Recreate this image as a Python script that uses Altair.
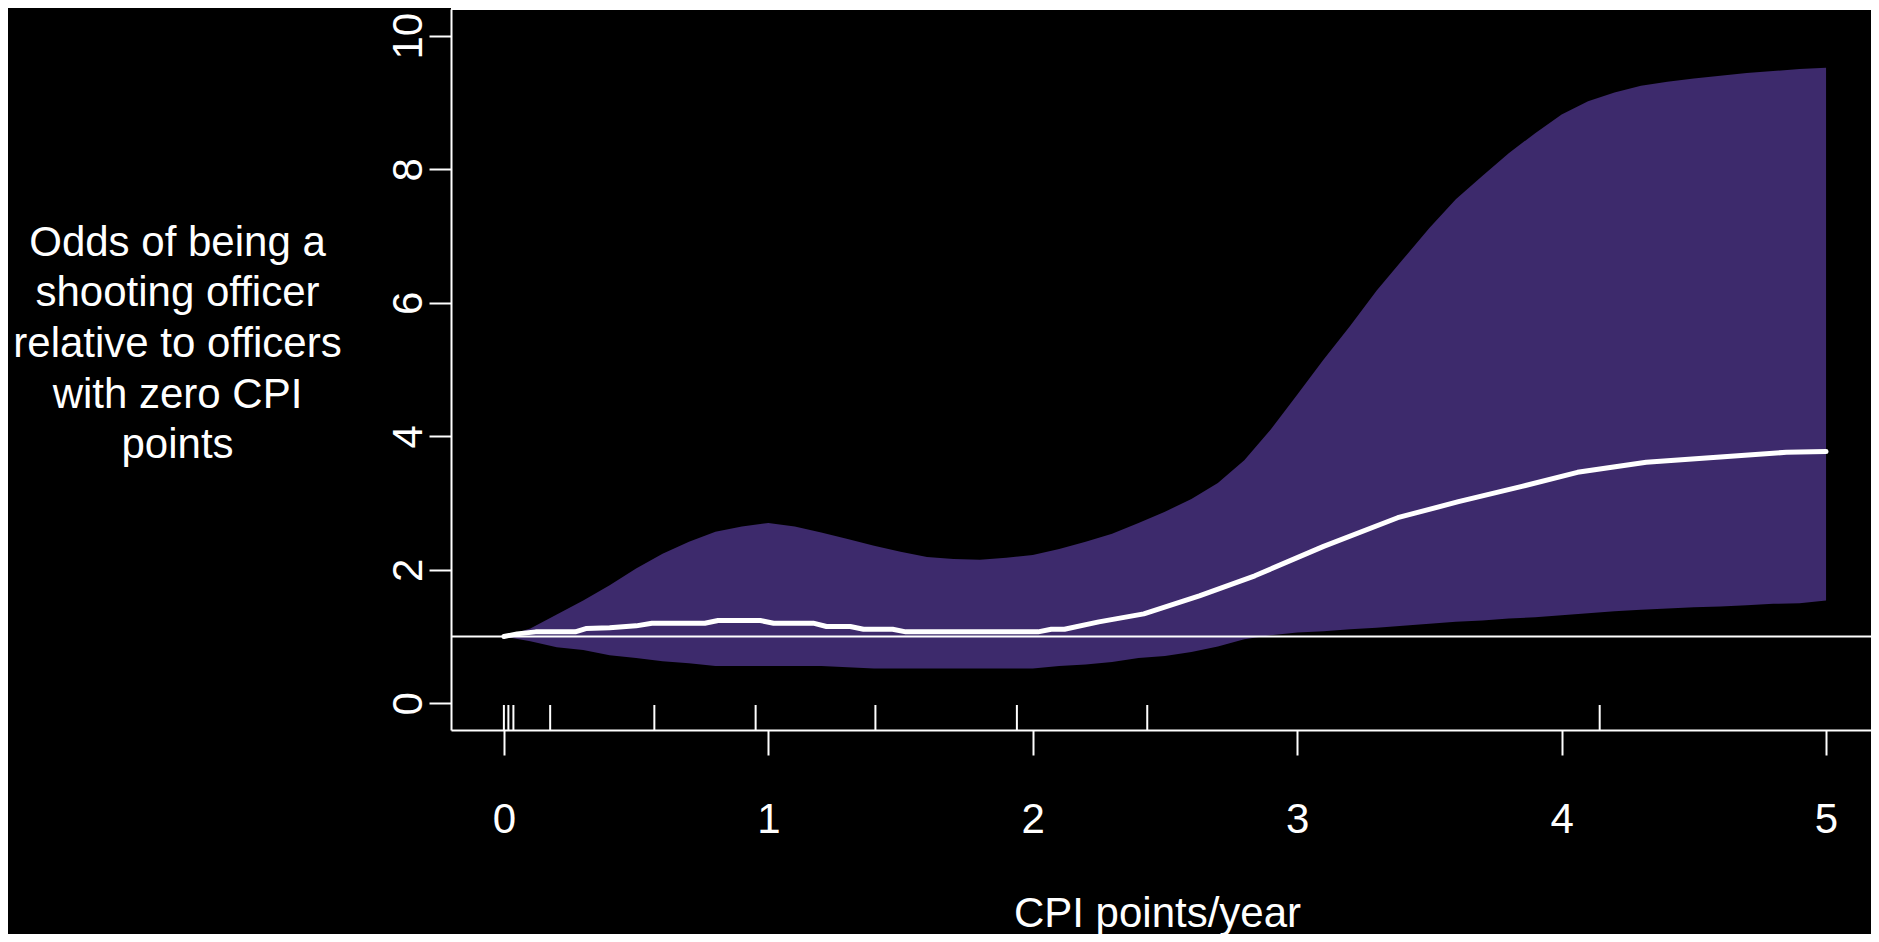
import altair as alt
import pandas as pd

# ---------------- data ----------------
band_x = [round(i * 0.1, 1) for i in range(51)]
band_upper = [1.00, 1.12, 1.33, 1.54, 1.77, 2.02, 2.24, 2.42, 2.57, 2.65, 2.70,
              2.65, 2.56, 2.46, 2.36, 2.27, 2.19, 2.16, 2.15, 2.18, 2.22,
              2.31, 2.42, 2.54, 2.70, 2.87, 3.06, 3.30, 3.64, 4.10, 4.62,
              5.15, 5.65, 6.18, 6.65, 7.12, 7.55, 7.90, 8.24, 8.54, 8.82,
              9.02, 9.15, 9.25, 9.31, 9.36, 9.40, 9.44, 9.47, 9.50, 9.52]
band_lower = [1.00, 0.93, 0.84, 0.80, 0.72, 0.68, 0.63, 0.60, 0.56, 0.56, 0.56,
              0.56, 0.56, 0.54, 0.52, 0.52, 0.52, 0.52, 0.52, 0.52, 0.52,
              0.56, 0.58, 0.62, 0.68, 0.71, 0.77, 0.85, 0.96, 1.02, 1.06,
              1.08, 1.11, 1.13, 1.16, 1.19, 1.22, 1.24, 1.27, 1.29, 1.32,
              1.35, 1.38, 1.40, 1.42, 1.44, 1.45, 1.47, 1.49, 1.50, 1.54]

line_x = [0.00, 0.05, 0.12, 0.27, 0.31, 0.40, 0.50, 0.56, 0.76, 0.81, 0.97,
          1.02, 1.17, 1.22, 1.31, 1.36, 1.47, 1.52, 2.02, 2.07, 2.12, 2.25,
          2.42, 2.63, 2.84, 3.10, 3.38, 3.61, 3.85, 4.06, 4.32, 4.60, 4.85, 5.00]
line_y = [1.00, 1.04, 1.07, 1.07, 1.12, 1.13, 1.16, 1.20, 1.20, 1.24, 1.24,
          1.20, 1.20, 1.15, 1.15, 1.11, 1.11, 1.07, 1.07, 1.11, 1.11, 1.22,
          1.34, 1.61, 1.91, 2.35, 2.78, 3.02, 3.25, 3.46, 3.61, 3.69, 3.76, 3.77]

rug_x = [0.0, 0.017, 0.036, 0.175, 0.569, 0.952, 1.405, 1.94, 2.433, 4.144]

x_ticks = [0, 1, 2, 3, 4, 5]
y_ticks = [0, 2, 4, 6, 8, 10]
x_domain = [-0.2, 5.17]
y_domain = [-0.4, 10.4]
ref_value = 1

x_title = "CPI points/year"
y_title = ["Odds of being a", "shooting officer", "relative to officers",
           "with zero CPI", "points"]

FONT = "Liberation Sans"
PURPLE = "#3D2A6C"

band_df = pd.DataFrame({"x": band_x, "lo": band_lower, "hi": band_upper})
line_df = pd.DataFrame({"x": line_x, "y": line_y})
rug_df = pd.DataFrame({"x": rug_x})
frame_df = pd.DataFrame({"x": [x_domain[0]], "x2": [x_domain[1]],
                         "top": [y_domain[1]], "ref": [ref_value]})

xs = alt.Scale(domain=x_domain, nice=False, zero=False)
ys = alt.Scale(domain=y_domain, nice=False, zero=False)

x_axis = alt.Axis(values=x_ticks, format="d", title=x_title, grid=False,
                  domainColor="white", domainWidth=2,
                  tickColor="white", tickWidth=2, tickSize=25,
                  labelFont=FONT, labelFontSize=42, labelColor="white",
                  labelPadding=77, labelBaseline="alphabetic",
                  labelFlush=False, labelOverlap=False,
                  titleFont=FONT, titleFontSize=42, titleColor="white",
                  titleFontWeight="normal", titleX=706, titleY=196,
                  titleAlign="center", titleBaseline="alphabetic")

y_axis = alt.Axis(values=y_ticks, format="d", title=y_title, grid=False,
                  domainColor="white", domainWidth=2,
                  tickColor="white", tickWidth=2, tickSize=22,
                  labelFont=FONT, labelFontSize=42, labelColor="white",
                  labelAngle=270, labelAlign="center",
                  labelBaseline="alphabetic", labelPadding=8,
                  labelFlush=False, labelOverlap=False,
                  titleFont=FONT, titleFontSize=42, titleColor="white",
                  titleFontWeight="normal", titleAngle=0,
                  titleAlign="center", titleBaseline="alphabetic",
                  titleX=-274, titleY=246, titleLineHeight=50.7)

band = alt.Chart(band_df).mark_area(color=PURPLE, opacity=1).encode(
    x=alt.X("x:Q", scale=xs, axis=x_axis),
    y=alt.Y("lo:Q", scale=ys, axis=y_axis),
    y2="hi:Q",
)

ref_line = alt.Chart(frame_df).mark_rule(color="white", strokeWidth=2).encode(
    x="x:Q", x2="x2:Q", y="ref:Q"
)

top_line = alt.Chart(frame_df).mark_rule(color="white", strokeWidth=2).encode(
    x="x:Q", x2="x2:Q", y="top:Q"
)

curve = alt.Chart(line_df).mark_line(color="white", strokeWidth=5,
                                     strokeCap="round", strokeJoin="round").encode(
    x="x:Q", y="y:Q"
)

rug = alt.Chart(rug_df).mark_rule(color="white", strokeWidth=2).encode(
    x="x:Q", y=alt.value(721), y2=alt.value(696)
)

chart = alt.layer(band, ref_line, top_line, curve, rug).properties(
    width=1420, height=721,
    autosize=alt.AutoSizeParams(type="none"),
    padding={"left": 443, "top": 1, "right": 0, "bottom": 204},
    background="black",
).configure_view(stroke=None)

chart.save("out.html", embed_options={"renderer": "svg", "actions": False})
